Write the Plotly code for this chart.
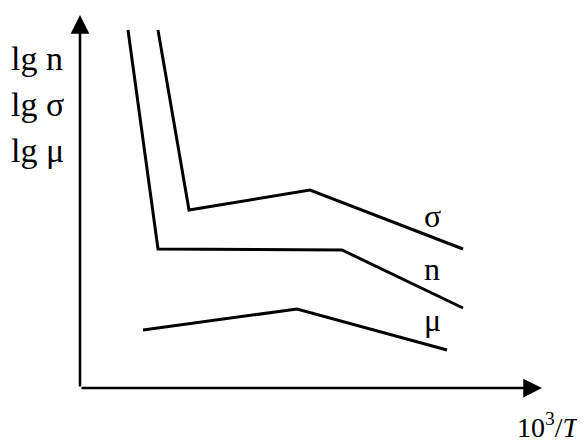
import plotly.graph_objects as go

# Schematic curves (arbitrary units: x ~ 10^3/T, y ~ lg value)
x_sigma = [78, 109, 230, 383]
y_sigma = [358, 178, 198, 139]
x_n = [48, 78, 262, 383]
y_n = [358, 139, 138, 80]
x_mu = [63, 217, 367]
y_mu = [58, 79, 38]

curve_labels = ["σ", "n", "μ"]
axis_labels_y = ["lg n", "lg σ", "lg μ"]
axis_label_x = "10<sup>3</sup>/<i>T</i>"

FONT = "Liberation Serif, Times New Roman, serif"

fig = go.Figure()
for xs, ys in [(x_sigma, y_sigma), (x_n, y_n), (x_mu, y_mu)]:
    fig.add_trace(go.Scatter(x=xs, y=ys, mode="lines",
                             line=dict(color="black", width=3),
                             showlegend=False, hoverinfo="skip"))

ann = []
# axes arrows
ann.append(dict(x=462, y=0, ax=0, ay=0, xref="x", yref="y", axref="x", ayref="y",
                text="", showarrow=True, arrowhead=2, arrowsize=1.5, arrowwidth=2.5,
                arrowcolor="black", standoff=0, startstandoff=0))
ann.append(dict(x=0, y=373, ax=0, ay=0, xref="x", yref="y", axref="x", ayref="y",
                text="", showarrow=True, arrowhead=2, arrowsize=1.5, arrowwidth=2.5,
                arrowcolor="black", standoff=0, startstandoff=0))
# curve labels
for lab, (lx, ly) in zip(curve_labels, [(352, 172), (352, 119), (352, 68)]):
    ann.append(dict(x=lx, y=ly, xref="x", yref="y", text=lab, showarrow=False,
                    font=dict(family=FONT, size=32, color="black")))
# y-axis labels
for lab, ly in zip(axis_labels_y, [330, 284, 238]):
    ann.append(dict(x=-71, y=ly, xref="x", yref="y", text=lab, showarrow=False,
                    xanchor="left", font=dict(family=FONT, size=34, color="black")))
# x-axis label
ann.append(dict(x=503, y=-37, xref="x", yref="y", text=axis_label_x, showarrow=False,
                xanchor="right", font=dict(family=FONT, size=28, color="black")))

fig.update_layout(
    width=577, height=436,
    margin=dict(l=0, r=0, t=0, b=0),
    paper_bgcolor="white", plot_bgcolor="white",
    xaxis=dict(range=[-72, 505], visible=False, fixedrange=True),
    yaxis=dict(range=[-56, 380], visible=False, fixedrange=True),
    annotations=ann,
)
fig.write_html("out.html")
